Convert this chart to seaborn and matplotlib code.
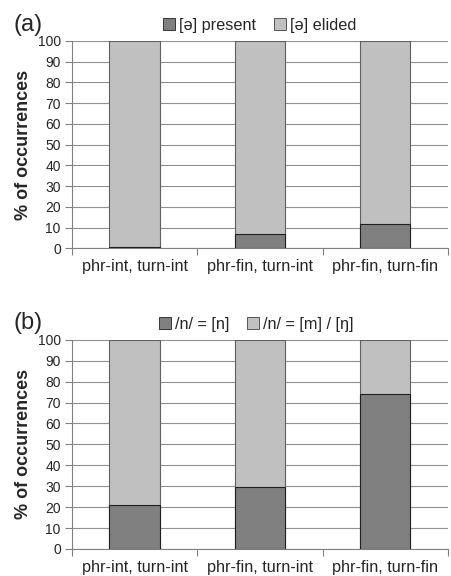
import pandas as pd
import numpy as np
import matplotlib.pyplot as plt
import seaborn as sns
from matplotlib.patches import Patch

# categories and values
categories = ['phr-int, turn-int', 'phr-fin, turn-int', 'phr-fin, turn-fin']
schwa_present = [0.5, 7.0, 11.5]
n_as_n = [21.0, 29.5, 74.0]
totals = [100, 100, 100]

legend_a = ['[ə] present', '[ə] elided']
legend_b = ['/n/ = [n]', '/n/ = [m] / [ŋ]']

dark = '#808080'
light = '#c0c0c0'

sns.set_style('white')
plt.rcParams['font.family'] = ['Liberation Sans', 'DejaVu Sans']

fig = plt.figure(figsize=(4.52, 5.76), dpi=100)
ax_a = fig.add_axes([0.159, 0.569, 0.832, 0.36])
ax_b = fig.add_axes([0.159, 0.047, 0.832, 0.363])


def draw_panel(ax, low, labels, tag, lx):
    df_tot = pd.DataFrame({'cat': categories, 'val': totals})
    df_low = pd.DataFrame({'cat': categories, 'val': low})
    sns.barplot(data=df_tot, x='cat', y='val', color=light, width=0.4,
                edgecolor='#606060', linewidth=0.8, ax=ax, zorder=3)
    sns.barplot(data=df_low, x='cat', y='val', color=dark, width=0.4,
                edgecolor='#202020', linewidth=0.8, ax=ax, zorder=4)
    ax.set_ylim(0, 100)
    ax.set_xlim(-0.5, 2.5)
    ax.set_yticks(np.arange(0, 101, 10))
    ax.yaxis.grid(True, color='#909090', linewidth=0.8, zorder=0)
    ax.set_axisbelow(True)
    ax.tick_params(axis='y', direction='out', length=5, width=0.8,
                   color='#808080', labelsize=10, pad=3, left=True)
    ax.set_xticks([-0.5, 0.5, 1.5, 2.5], minor=True)
    ax.tick_params(axis='x', which='minor', direction='out', length=5,
                   width=0.8, color='#808080', bottom=True)
    ax.tick_params(axis='x', which='major', length=0, labelsize=11.7, pad=8)
    for s in ['top', 'right']:
        ax.spines[s].set_visible(False)
    for s in ['left', 'bottom']:
        ax.spines[s].set_color('#808080')
        ax.spines[s].set_linewidth(0.8)
    ax.set_xlabel('')
    ax.set_ylabel('% of occurrences', fontsize=13, fontweight='bold', labelpad=4)
    handles = [Patch(facecolor=dark, edgecolor='#202020', linewidth=0.6),
               Patch(facecolor=light, edgecolor='#404040', linewidth=0.6)]
    ax.legend(handles, labels, loc='lower center', bbox_to_anchor=(lx, 1.0),
              ncol=2, frameon=False, fontsize=11.7, handlelength=0.75,
              handleheight=0.75, handletextpad=0.25, columnspacing=1.1,
              borderaxespad=0.1)
    ax.text(-0.155, 1.05, tag, transform=ax.transAxes, fontsize=17)


draw_panel(ax_a, schwa_present, legend_a, '(a)', 0.5)
draw_panel(ax_b, n_as_n, legend_b, '(b)', 0.49)

fig.savefig('out.png', dpi=100, facecolor='white')
